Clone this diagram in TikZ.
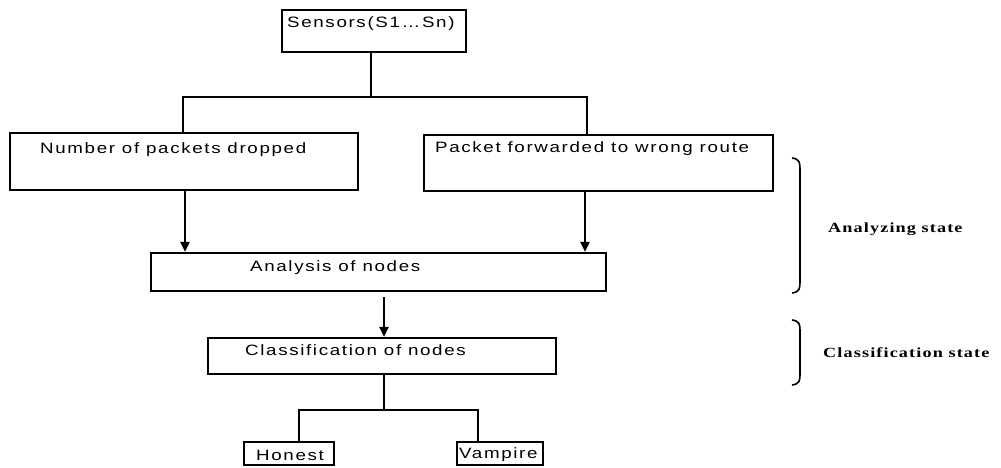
\documentclass[tikz,border=0pt]{standalone}
\usepackage{fontspec}
\usetikzlibrary{arrows.meta}
\newfontfamily\boxfont[FakeStretch=1.25,LetterSpace=11]{Liberation Sans}
\newfontfamily\labfont[FakeStretch=1.3,LetterSpace=8]{Liberation Serif}
\begin{document}
\begin{tikzpicture}[x=1pt,y=-1pt,
  box/.style={draw,line width=2.2pt,inner sep=0pt,minimum width=#1},
  box/.default=10pt,
  txt/.style={anchor=west,inner sep=0pt,font=\boxfont\fontsize{15}{15}\selectfont},
  lab/.style={anchor=west,inner sep=0pt,font=\labfont\bfseries\fontsize{14}{14}\selectfont},
  conn/.style={line width=2pt},
  arr/.style={line width=2pt,-{Triangle[length=10pt,width=9pt]}},
  brace/.style={line width=1.6pt}]
\useasboundingbox (0,0) rectangle (1001,467);
% boxes
\node[box=184pt,minimum height=42pt,line width=1.5pt] (sens) at (374,31) {};
\node[box=348pt,minimum height=57pt] (npd) at (184,161.5) {};
\node[box=349pt,minimum height=56pt] (pfw) at (598.5,163) {};
\node[box=455pt,minimum height=38pt] (ana) at (378.5,272) {};
\node[box=348pt,minimum height=36pt] (cls) at (382,356) {};
\node[box=90pt,minimum height=23pt] (hon) at (289,453.5) {};
\node[box=86pt,minimum height=23pt] (vam) at (500,453.5) {};
% texts
\node[txt] (tsens) at (287,24) {Sensors(S1…Sn)};
\node[txt] (tnpd) at (40,150) {Number of packets dropped};
\node[txt] (tpfw) at (435,149) {Packet forwarded to wrong route};
\node[txt] (tana) at (250,268) {Analysis of nodes};
\node[txt] (tcls) at (245,350) {Classification of nodes};
\node[txt] (thon) at (256,455) {Honest};
\node[txt] (tvam) at (459,455) {Vampire};
\node[lab] (lana) at (828,229) {Analyzing state};
\node[lab] (lcls) at (823,353) {Classification state};
% connectors
\coordinate (j0) at (371,97);
\coordinate (jl) at (183,97);
\coordinate (jr) at (587,97);
\draw[conn] (sens.south -| j0) -- (j0);
\draw[conn] (npd.north -| jl) -- (jl) -- (jr) -- (pfw.north -| jr);
\draw[arr] (npd.south -| 185,0) -- (ana.north -| 185,0);
\draw[arr] (pfw.south -| 585,0) -- (ana.north -| 585,0);
\coordinate (a1) at (384,297);
\draw[arr] (a1) -- (cls.north -| a1);
\coordinate (j1) at (384,410);
\coordinate (jh) at (299,410);
\coordinate (jv) at (478,410);
\draw[conn] (cls.south -| j1) -- (j1);
\draw[conn] (hon.north -| jh) -- (jh) -- (jv) -- (vam.north -| jv);
% braces
\draw[brace] (792,158) .. controls (800,159) and (800,163) .. (800,170) -- (800,281) .. controls (800,288) and (800,292) .. (792,293);
\draw[brace] (792,320) .. controls (800,321) and (800,325) .. (800,331) -- (800,374) .. controls (800,380) and (800,384) .. (792,385);
\end{tikzpicture}
\end{document}
